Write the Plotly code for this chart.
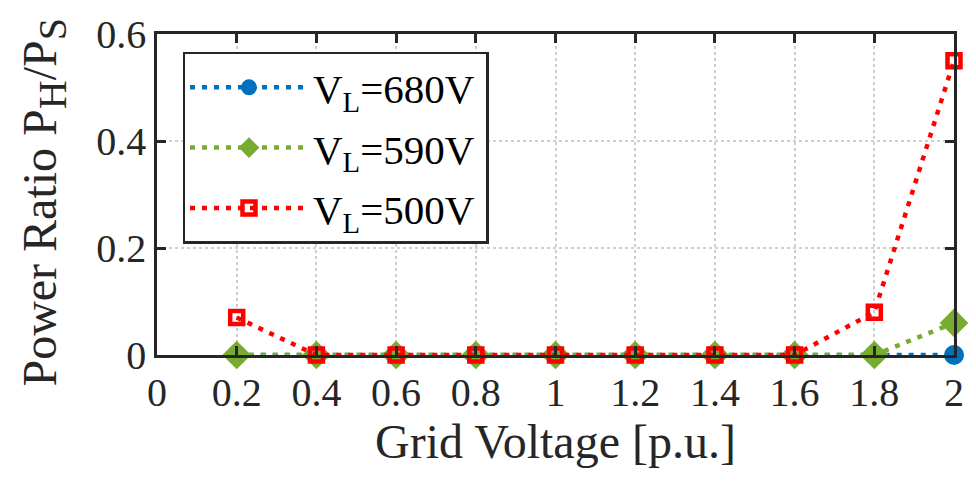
import plotly.graph_objects as go

# Grid voltage operating points [p.u.]
grid_voltage = [0.2, 0.4, 0.6, 0.8, 1.0, 1.2, 1.4, 1.6, 1.8, 2.0]

# Power ratio P_H / P_S for each link voltage
ratio_680 = [0, 0, 0, 0, 0, 0, 0, 0, 0, 0]
ratio_590 = [0, 0, 0, 0, 0, 0, 0, 0, 0, 0.06]
ratio_500 = [0.07, 0, 0, 0, 0, 0, 0, 0, 0.08, 0.55]

x_ticks = [0, 0.2, 0.4, 0.6, 0.8, 1.0, 1.2, 1.4, 1.6, 1.8, 2.0]
x_tick_text = ["0", "0.2", "0.4", "0.6", "0.8", "1", "1.2", "1.4", "1.6", "1.8", "2"]
y_ticks = [0, 0.2, 0.4, 0.6]
y_tick_text = ["0", "0.2", "0.4", "0.6"]

FONT = "Liberation Serif, Times New Roman, serif"
AXIS = "#262626"
DASH = "5px,7px"
PAD = "<span style='font-size:24px'>&nbsp;</span>"

fig = go.Figure()

fig.add_trace(go.Scatter(
    x=grid_voltage, y=ratio_680, name="V<sub>L</sub>=680V" + PAD,
    mode="lines+markers", cliponaxis=False, legendgroup="a",
    line=dict(color="#0072BD", width=4.5, dash=DASH),
    marker=dict(symbol="circle", size=20, color="#0072BD"),
))
fig.add_trace(go.Scatter(
    x=grid_voltage, y=ratio_590, name="V<sub>L</sub>=590V" + PAD,
    mode="lines+markers", cliponaxis=False, legendgroup="b",
    line=dict(color="#77AC30", width=4.5, dash=DASH),
    marker=dict(symbol="diamond", size=22, color="#77AC30"),
))
fig.add_trace(go.Scatter(
    x=grid_voltage, y=ratio_500, name="V<sub>L</sub>=500V" + PAD,
    mode="lines+markers", cliponaxis=False, legendgroup="c",
    line=dict(color="#FF0000", width=4.5, dash=DASH),
    marker=dict(symbol="square-open", size=13, color="#FF0000",
                line=dict(width=4.5, color="#FF0000")),
))

fig.update_layout(
    width=976, height=483,
    margin=dict(l=157, r=13, t=22, b=128),
    paper_bgcolor="white", plot_bgcolor="white",
    font=dict(family=FONT, size=40, color=AXIS),
    showlegend=True,
    legend=dict(
        x=0.032, y=0.945, xanchor="left", yanchor="top",
        bgcolor="white", bordercolor=AXIS, borderwidth=2.5,
        font=dict(family=FONT, size=41, color="black"),
        itemwidth=118, tracegroupgap=4,
    ),
)

# y-axis title placed as a rotated annotation beside the tick labels
fig.add_annotation(
    text="Power Ratio P<sub><span style='font-size:40px'>H</span></sub>"
         "/P<sub><span style='font-size:40px'>S</span></sub>",
    xref="paper", yref="paper", x=-0.143, y=0.475,
    xanchor="center", yanchor="middle", textangle=-90, showarrow=False,
    font=dict(family=FONT, size=48, color=AXIS),
)

fig.update_xaxes(
    range=[0, 2], tickvals=x_ticks, ticktext=x_tick_text,
    showline=True, linecolor=AXIS, linewidth=2.5, mirror="ticks",
    ticks="inside", ticklen=9, tickwidth=2.5, tickcolor=AXIS,
    showgrid=True, gridcolor="#cfcfcf", gridwidth=1.5, griddash="dot",
    zeroline=False,
    title=dict(text="Grid Voltage [p.u.]", font=dict(family=FONT, size=48), standoff=0),
    tickfont=dict(family=FONT, size=40),
)
fig.update_yaxes(
    range=[0, 0.6], tickvals=y_ticks, ticktext=y_tick_text,
    showline=True, linecolor=AXIS, linewidth=2.5, mirror="ticks",
    ticks="inside", ticklen=9, tickwidth=2.5, tickcolor=AXIS,
    showgrid=True, gridcolor="#cfcfcf", gridwidth=1.5, griddash="dot",
    zeroline=False,
    tickfont=dict(family=FONT, size=40),
)

fig.write_html("out.html")
